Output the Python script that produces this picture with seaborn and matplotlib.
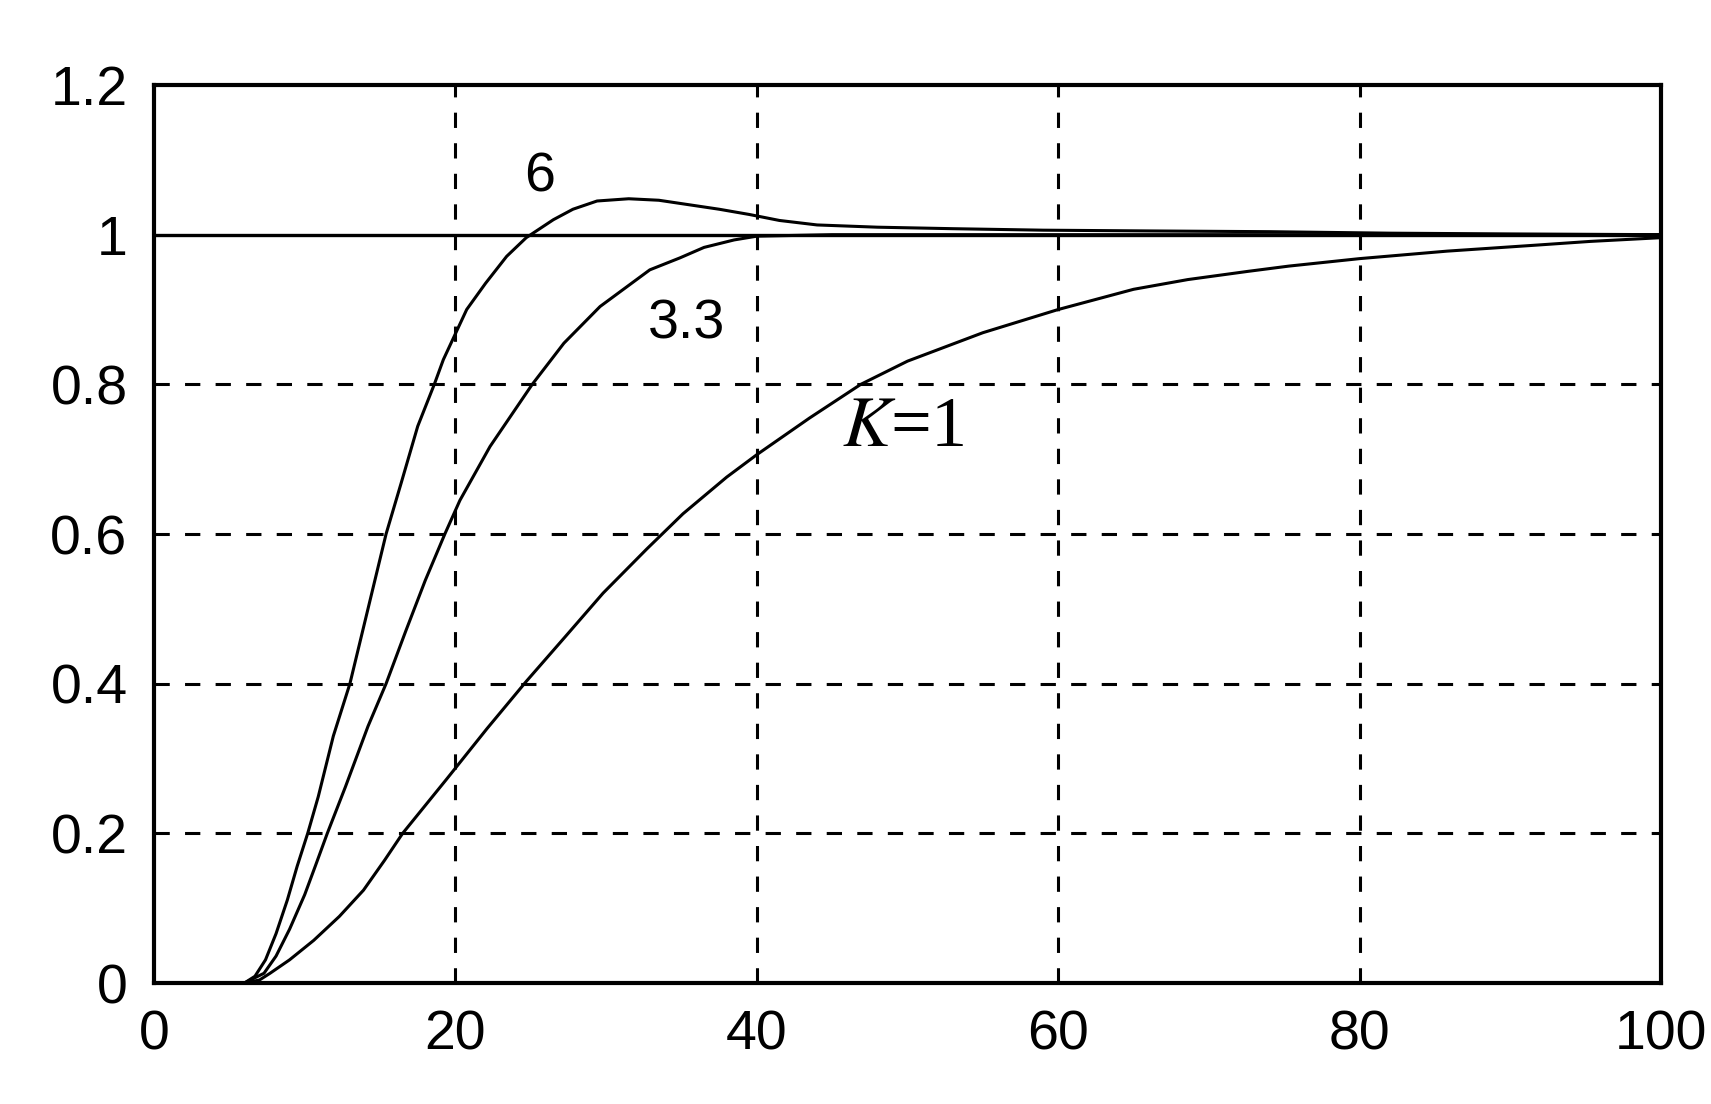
import matplotlib
matplotlib.use("Agg")
import matplotlib.pyplot as plt
import seaborn as sns

# step responses (time, output)
t_k6 = [0, 6.0, 6.7, 7.4, 8.1, 8.85, 9.5, 10.2, 10.9, 11.9, 13.0, 14.2, 15.4, 16.4, 17.5, 18.6, 19.2,
        20.75, 22.0, 23.4, 24.7, 26.5, 27.8, 29.4, 31.5, 33.5, 35.5, 37.5, 39.5, 41.5, 44, 48,
        53, 59, 66, 74, 82, 90, 100]
y_k6 = [0, 0, 0.009, 0.031, 0.066, 0.111, 0.156, 0.2, 0.249, 0.33, 0.4, 0.5, 0.6, 0.668, 0.744, 0.8, 0.833,
        0.9, 0.935, 0.971, 0.996, 1.02, 1.034, 1.045, 1.048, 1.046, 1.040, 1.034, 1.027, 1.019, 1.013, 1.010,
        1.008, 1.006, 1.005, 1.004, 1.002, 1.001, 1.0]

t_k33 = [0, 6.0, 7.3, 8.1, 9.0, 10.0, 10.7, 11.5, 12.7, 14.2, 15.4, 16.7, 18.0, 19.3, 20.3, 22.3, 25.1,
         27.2, 29.6, 32.9, 34.9, 36.5, 38.5, 40, 45, 55, 70, 100]
y_k33 = [0, 0, 0.013, 0.036, 0.072, 0.118, 0.156, 0.2, 0.262, 0.343, 0.4, 0.47, 0.538, 0.6, 0.645, 0.717, 0.8,
         0.855, 0.904, 0.953, 0.969, 0.983, 0.993, 0.998, 1.0, 1.0, 1.0, 1.0]

t_k1 = [0, 6.0, 7.0, 7.7, 9.0, 10.6, 12.3, 13.9, 15.3, 16.5, 19.4, 22.1, 24.7, 27.3, 29.8, 32.7, 35.1,
        38.0, 40, 43.5, 46.9, 50, 55, 60, 65, 68.6, 72.6, 75.3, 80, 85.8, 91.7, 95.3, 100]
y_k1 = [0, 0, 0.004, 0.013, 0.031, 0.057, 0.089, 0.124, 0.164, 0.2, 0.272, 0.340, 0.403, 0.463, 0.521, 0.580, 0.627,
        0.676, 0.706, 0.755, 0.8, 0.831, 0.869, 0.900, 0.927, 0.940, 0.951, 0.958, 0.968, 0.978, 0.986, 0.991, 0.996]

x_ticks = [0, 20, 40, 60, 80, 100]
y_ticks = [0, 0.2, 0.4, 0.6, 0.8, 1.0, 1.2]
y_tick_labels = ["0", "0.2", "0.4", "0.6", "0.8", "1", "1.2"]

sns.set_theme(style="white")
plt.rcParams['font.family'] = ['Liberation Sans', 'DejaVu Sans']
plt.rcParams['text.color'] = 'black'

fig = plt.figure(figsize=(17.11, 11.04), dpi=100)
ax = fig.add_axes([0.09, 0.1096, 0.8808, 0.8134])

for t, y in [(t_k6, y_k6), (t_k33, y_k33), (t_k1, y_k1)]:
    sns.lineplot(x=t, y=y, ax=ax, color='black', lw=2.2, sort=False, estimator=None)

ax.axhline(1.0, color='black', lw=2.4, zorder=1)

ax.set_xlim(0, 100)
ax.set_ylim(0, 1.2)
ax.set_xticks(x_ticks)
ax.set_yticks(y_ticks)
ax.set_yticklabels(y_tick_labels)
ax.tick_params(length=0, labelsize=40, pad=19, colors='black')

for v in [20, 40, 60, 80]:
    ax.axvline(v, color='black', lw=2.2, ls=(0, (5, 5)), zorder=0)
for v in [0.2, 0.4, 0.6, 0.8]:
    ax.axhline(v, color='black', lw=2.2, ls=(0, (5, 5)), zorder=0)

for s in ax.spines.values():
    s.set_color('black')
    s.set_linewidth(3)

ax.set_xlabel('')
ax.set_ylabel('')

# curve labels
ax.text(25.6, 1.076, "6", fontsize=40, ha='center', va='center', color='black')
ax.text(35.3, 0.880, "3.3", fontsize=40, ha='center', va='center', color='black')
ax.text(49.7, 0.741, r"$\mathit{K}$=1", fontsize=52, ha='center', va='center', color='black',
        family='Liberation Serif', math_fontfamily='stix')

fig.savefig("out.png", dpi=100, facecolor='white')
